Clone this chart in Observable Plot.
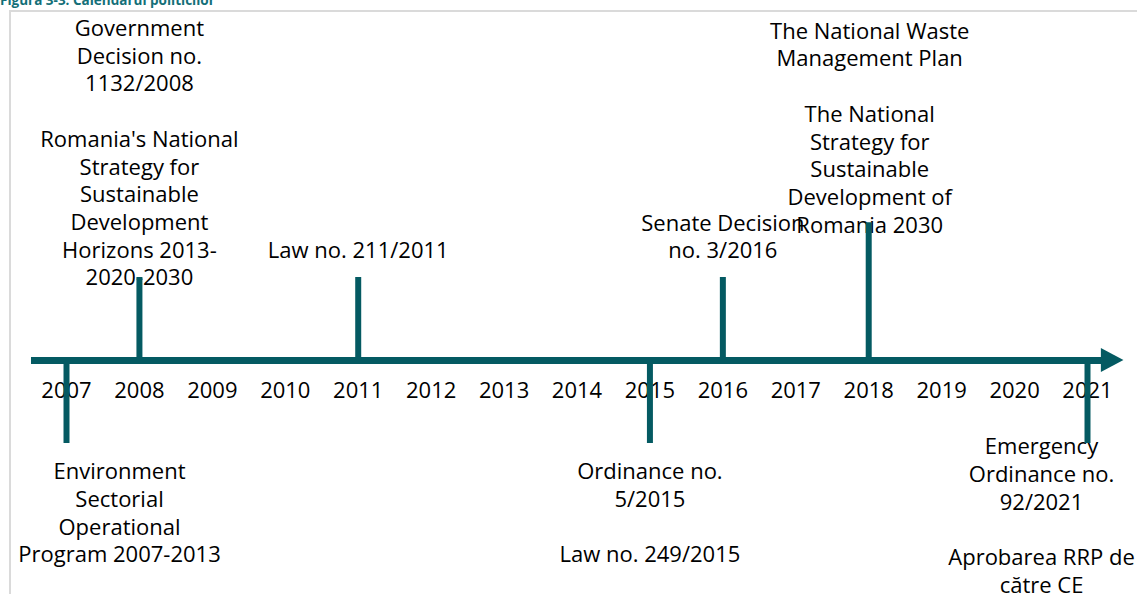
<!DOCTYPE html>
<html><head><meta charset="utf-8">
<script src="https://cdn.jsdelivr.net/npm/d3@7"></script>
<script src="https://cdn.jsdelivr.net/npm/@observablehq/plot@0.6"></script>
<style>
body{margin:0;background:#fff;}
#wrap{position:relative;width:1137px;height:594px;overflow:hidden;font-family:"Open Sans",sans-serif;}
#title{position:absolute;left:0;top:-6px;font-size:13.5px;font-weight:bold;color:#136f78;line-height:1;white-space:nowrap;}
#frame{position:absolute;left:9px;top:10px;right:0;bottom:0;border-left:2px solid #dadada;border-top:2px solid #dadada;}
#chart{position:absolute;left:0;top:0;}
</style></head><body>
<div id="wrap"><div id="frame"></div><div id="title">Figura 3-3: Calendarul politicilor</div><div id="chart"></div></div>
<script>
// ---- data ----
const years = [2007, 2008, 2009, 2010, 2011, 2012, 2013, 2014, 2015, 2016, 2017, 2018, 2019, 2020, 2021];
const eventYears = [2007, 2008, 2011, 2015, 2016, 2018, 2021];
const stemHeights = [-1, 1, 1, -1, 1, 1.66, -1];
const eventLabels = [
  "Environment\nSectorial\nOperational\nProgram 2007-2013",
  "Government\nDecision no.\n1132/2008\n\nRomania's National\nStrategy for\nSustainable\nDevelopment\nHorizons 2013-\n2020-2030",
  "Law no. 211/2011",
  "Ordinance no.\n5/2015\n\nLaw no. 249/2015",
  "Senate Decision\nno. 3/2016",
  "The National Waste\nManagement Plan\n\nThe National\nStrategy for\nSustainable\nDevelopment of\nRomania 2030",
  "Emergency\nOrdinance no.\n92/2021\n\nAprobarea RRP de\ncătre CE"
];

// ---- layout (label offsets in px) ----
const labelOffset = {2007: [53, 16], 2008: [0, 8], 2011: [0, -19], 2015: [0, 16], 2016: [0, -19], 2018: [1, 10], 2021: [-46, -9]};
const teal = "#045a62";

const events = eventYears.map((year, i) => ({year, h: stemHeights[i], label: eventLabels[i]}));

const arrowHead = (index, scales) => {
  const xb = scales.x(years[years.length - 1] + 0.19);
  const xt = scales.x(years[years.length - 1] + 0.5);
  const y = scales.y(0);
  const p = document.createElementNS("http://www.w3.org/2000/svg", "polygon");
  p.setAttribute("points", `${xb},${y - 12} ${xt},${y} ${xb},${y + 12}`);
  p.setAttribute("fill", teal);
  return p;
};

const labelMarks = events.map(e => Plot.text([e], {
  x: "year", y: "h", text: "label",
  lineAnchor: e.h > 0 ? "bottom" : "top",
  lineHeight: 1.26,
  dx: labelOffset[e.year][0], dy: labelOffset[e.year][1],
  fill: "black"
}));

const chart = Plot.plot({
  width: 1137, height: 594,
  marginLeft: 66, marginRight: 50, marginTop: 0, marginBottom: 234,
  x: {domain: [years[0], years[years.length - 1]]},
  y: {domain: [0, 4.337], axis: null},
  style: {fontFamily: "'Open Sans', sans-serif", fontSize: "22px", color: "black", background: "transparent", overflow: "visible"},
  marks: [
    Plot.axisX(years, {anchor: "bottom", tickSize: 0, tickPadding: 22, tickFormat: d => String(d), fontSize: 22, label: null}),
    ...labelMarks,
    Plot.ruleY([0], {x1: years[0] - 0.48, x2: years[years.length - 1] + 0.25, stroke: teal, strokeWidth: 7}),
    Plot.ruleX(events, {x: "year", y1: 0, y2: "h", stroke: teal, strokeWidth: 6}),
    arrowHead
  ]
});
document.getElementById("chart").appendChild(chart);
</script>
</body></html>
